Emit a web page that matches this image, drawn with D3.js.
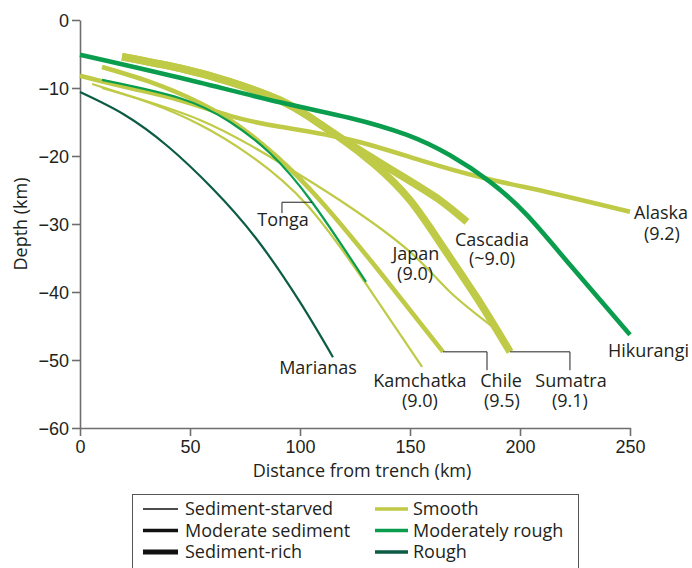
<!DOCTYPE html>
<html>
<head>
<meta charset="utf-8">
<script src="https://cdn.jsdelivr.net/npm/d3@7"></script>
<style>
  body { margin: 0; background: #fff; }
  svg { font-family: "Open Sans", "Noto Sans", sans-serif; }
  .axis path, .axis line { stroke: #6e6e6e; stroke-width: 1.6; }
  .axis text { font-size: 18px; fill: #231f20; }
</style>
</head>
<body>
<div id="chart"></div>
<script>
// slab-top profiles: [distance from trench (km), depth (km)]
const alaska    = [[0,-8.2],[22.7,-10],[45.5,-11.8],[68.2,-14.1],[90.9,-15.7],[122.7,-17.6],[154.5,-20.6],[183.2,-23.2],[213.6,-25.4],[250,-28.2]];
const hikurangi = [[0,-5.1],[45.5,-8.5],[90.9,-12.1],[122.7,-14.4],[148.6,-16.9],[168.2,-19.9],[186.4,-23.8],[203.2,-28.7],[222.7,-36],[250,-46.3]];
const cascadia  = [[19.1,-5.4],[45.5,-7.1],[68.2,-9.1],[90.9,-11.8],[104.5,-14.3],[118.2,-17.3],[145.5,-22.8],[163.6,-26.5],[175.9,-29.7]];
const sumatra   = [[19.1,-5.4],[45.5,-7.1],[68.2,-9.1],[90.9,-11.8],[104.5,-14.3],[118.2,-17.3],[134.1,-21.3],[150,-26.5],[165,-33.4],[180.5,-40.9],[195.5,-48.8]];
const chile     = [[10,-6.9],[31.8,-9.1],[54.5,-12.2],[72.7,-15.7],[89.5,-20.1],[109.1,-26.5],[136.4,-37.1],[165,-48.8]];
const japan     = [[5.5,-9.4],[31.8,-12.1],[54.5,-14.7],[77.3,-18.4],[100,-22.8],[122.7,-27.5],[150,-34.1],[168.2,-40],[189.5,-45.6]];
const kamchatka = [[10,-10],[31.8,-12.2],[54.5,-15.4],[77.3,-19.9],[103.2,-27.2],[130,-38.8],[155.5,-51]];
const tonga     = [[10,-8.8],[45.5,-11.5],[68.2,-15],[86.4,-19.6],[105.5,-26.8],[130,-38.5]];
const marianas  = [[0,-10.6],[20,-13.9],[40,-18.6],[60,-24.7],[80,-32.1],[100,-41.5],[115,-49.6]];

// drawing order: smooth (yellow) first, greens on top
const zones = [
  { name: "Cascadia",  sediment: "rich",     rough: "smooth",   pts: cascadia },
  { name: "Sumatra",   sediment: "rich",     rough: "smooth",   pts: sumatra },
  { name: "Alaska",    sediment: "moderate", rough: "smooth",   pts: alaska },
  { name: "Chile",     sediment: "moderate", rough: "smooth",   pts: chile },
  { name: "Japan",     sediment: "starved",  rough: "smooth",   pts: japan },
  { name: "Kamchatka", sediment: "starved",  rough: "smooth",   pts: kamchatka },
  { name: "Hikurangi", sediment: "moderate", rough: "moderate", pts: hikurangi },
  { name: "Tonga",     sediment: "starved",  rough: "moderate", pts: tonga },
  { name: "Marianas",  sediment: "starved",  rough: "rough",    pts: marianas }
];

// label lines, anchored (middle) in km
const labels = [
  { text: "Alaska",    x: 264.1, y: -29.3 },
  { text: "(9.2)",     x: 264.5, y: -32.3 },
  { text: "Hikurangi", x: 258.4, y: -49.6 },
  { text: "Cascadia",  x: 187.3, y: -33.2 },
  { text: "(~9.0)",    x: 187.3, y: -36.1 },
  { text: "Japan",     x: 152.7, y: -35.3 },
  { text: "(9.0)",     x: 152.3, y: -38.2 },
  { text: "Kamchatka", x: 154.5, y: -54 },
  { text: "(9.0)",     x: 154.5, y: -56.9 },
  { text: "Chile",     x: 191.4, y: -54 },
  { text: "(9.5)",     x: 191.8, y: -56.9 },
  { text: "Sumatra",   x: 223.2, y: -54 },
  { text: "(9.1)",     x: 222.7, y: -56.9 },
  { text: "Tonga",     x: 92.3,  y: -30.3 },
  { text: "Marianas",  x: 108.2, y: -52.1 }
];

const leaders = [
  [[91.8,-28.4],[91.8,-26.8],[105.5,-26.8]],
  [[165,-48.8],[185,-48.8],[185,-51.5]],
  [[195.5,-48.8],[222.7,-48.8],[222.7,-51.5]]
];

const xTicks = [0, 50, 100, 150, 200, 250];
const yTicks = [0, -10, -20, -30, -40, -50, -60];

const sedimentKeys = ["starved", "moderate", "rich"];
const sedimentNames = ["Sediment-starved", "Moderate sediment", "Sediment-rich"];
const roughKeys = ["smooth", "moderate", "rough"];
const roughNames = ["Smooth", "Moderately rough", "Rough"];

const widthScale = d3.scaleOrdinal().domain(sedimentKeys).range([2.2, 4.6, 7.5]);
const legendWidth = d3.scaleOrdinal().domain(sedimentKeys).range([1.3, 3.5, 5]);
const color = d3.scaleOrdinal().domain(roughKeys).range(["#bfca46", "#0a9d4e", "#0c5b45"]);

const W = 692, H = 568;
const svg = d3.select("#chart").append("svg").attr("width", W).attr("height", H);

const x = d3.scaleLinear().domain([0, 250]).range([80, 630]);
const y = d3.scaleLinear().domain([-60, 0]).range([428, 20]);

const line = d3.line()
  .x(d => x(d[0]))
  .y(d => y(d[1]))
  .curve(d3.curveNatural);

svg.append("g")
  .attr("class", "axis")
  .attr("transform", `translate(${x(0)},0)`)
  .call(d3.axisLeft(y).tickValues(yTicks).tickSize(8).tickSizeOuter(0).tickPadding(3))
  .selectAll("text").attr("dy", "0.36em");

svg.append("g")
  .attr("class", "axis")
  .attr("transform", `translate(0,${y(-60)})`)
  .call(d3.axisBottom(x).tickValues(xTicks).tickSize(8).tickSizeOuter(0).tickPadding(4));

svg.append("text")
  .attr("transform", `translate(27,${(y(0) + y(-60)) / 2}) rotate(-90)`)
  .attr("text-anchor", "middle")
  .style("font-size", "18px")
  .attr("fill", "#231f20")
  .text("Depth (km)");

svg.append("text")
  .attr("x", (x(0) + x(250)) / 2 + 7)
  .attr("y", 477)
  .attr("text-anchor", "middle")
  .style("font-size", "18px")
  .attr("fill", "#231f20")
  .text("Distance from trench (km)");

// profiles
svg.append("g").selectAll("path")
  .data(zones)
  .enter()
  .append("path")
  .attr("d", d => line(d.pts))
  .attr("fill", "none")
  .attr("stroke", d => color(d.rough))
  .attr("stroke-width", d => widthScale(d.sediment))
  .attr("stroke-linecap", "butt");

// leader lines
svg.append("g").selectAll("path")
  .data(leaders)
  .enter()
  .append("path")
  .attr("d", d3.line().x(d => x(d[0])).y(d => y(d[1])))
  .attr("fill", "none")
  .attr("stroke", "#231f20")
  .attr("stroke-width", 1);

// zone labels
svg.append("g").selectAll("text")
  .data(labels)
  .enter()
  .append("text")
  .attr("x", d => x(d.x))
  .attr("y", d => y(d.y))
  .attr("text-anchor", "middle")
  .style("font-size", "18px")
  .attr("fill", "#231f20")
  .text(d => d.text);

// legend
const legend = svg.append("g");
legend.append("rect")
  .attr("x", 132.5).attr("y", 494.5)
  .attr("width", 446).attr("height", 90)
  .attr("fill", "#fff")
  .attr("stroke", "#555")
  .attr("stroke-width", 1);

sedimentKeys.forEach((k, i) => {
  const g = legend.append("g").attr("transform", `translate(143,${509 + i * 21.5})`);
  g.append("line").attr("x1", 0).attr("x2", 35)
    .attr("stroke", "#111").attr("stroke-width", legendWidth(k));
  g.append("text").attr("x", 42).attr("y", 6)
    .style("font-size", "18px").attr("fill", "#231f20")
    .text(sedimentNames[i]);
});

roughKeys.forEach((k, i) => {
  const g = legend.append("g").attr("transform", `translate(375,${509 + i * 21.5})`);
  g.append("line").attr("x1", 0).attr("x2", 33)
    .attr("stroke", color(k)).attr("stroke-width", 3.3);
  g.append("text").attr("x", 38).attr("y", 6)
    .style("font-size", "18px").attr("fill", "#231f20")
    .text(roughNames[i]);
});
</script>
</body>
</html>
